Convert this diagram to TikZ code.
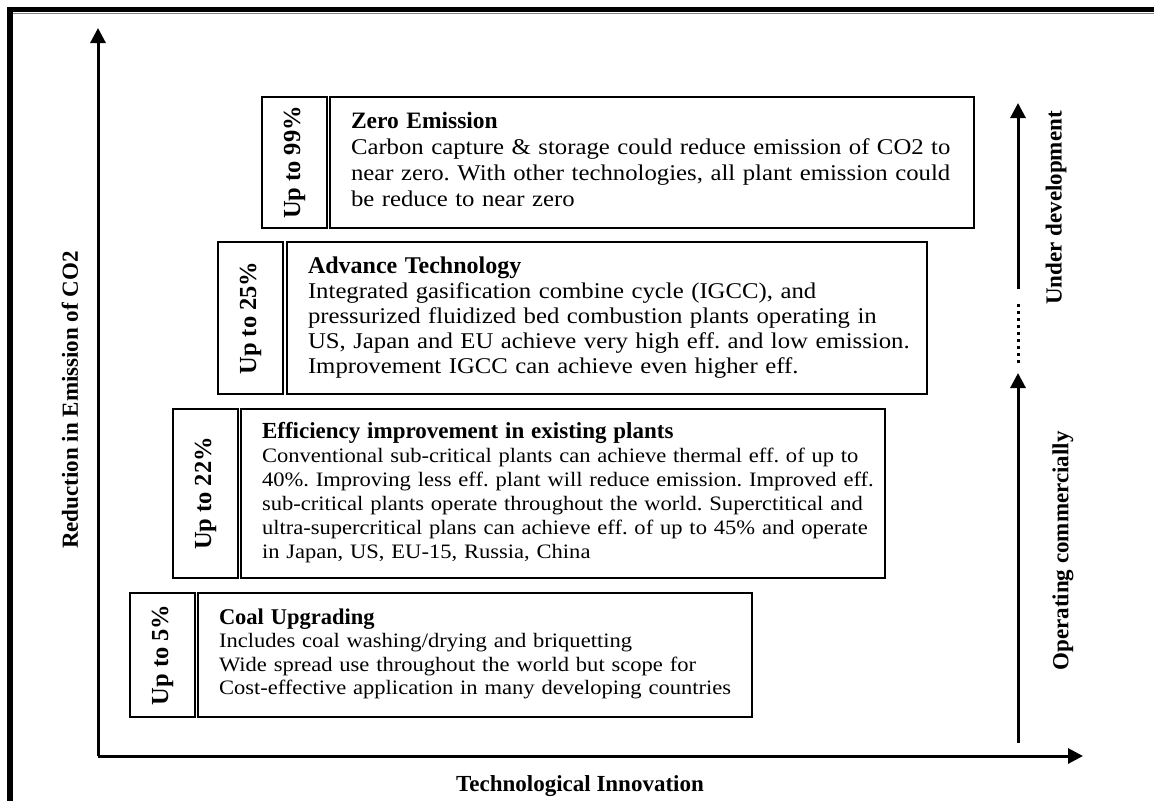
\documentclass[tikz,border=0pt]{standalone}
\usepackage{fontspec}
\setmainfont{Liberation Serif}
\newfontfamily\bodyfont[FakeStretch=1.1]{Liberation Serif}
\usetikzlibrary{arrows.meta}
\tikzset{
  ladderfig/.style={x=1pt, y=-1pt, >={Triangle[width=15pt,length=15pt]}},
  pctbox/.style={draw, line width=1.5pt, rotate=90, inner sep=0pt,
    minimum height=65pt, font=\bfseries\fontsize{24.5}{28}\selectfont},
  techbox/.style={draw, line width=1.5pt, align=left, inner xsep=21pt, inner ysep=0pt},
  axisline/.style={line width=3pt, ->},
  axislabel/.style={font=\bfseries\fontsize{23}{27}\selectfont},
  stagelabel/.style={axislabel, rotate=90},
}
% heading line and line block inside a technology box
\newcommand{\boxhead}[2]{{\rmfamily\bfseries\fontsize{#1}{#1}\selectfont #2}}
\newcommand{\boxlines}[1]{\frenchspacing\begin{tabular}{@{}l@{}}#1\end{tabular}}

\begin{document}
\begin{tikzpicture}[ladderfig]
  \useasboundingbox (0,0) rectangle (1154,801);
  % page frame
  \fill (7,7) rectangle (1154,12);
  \fill (7,7) rectangle (13,801);
  \draw[gray, line width=1pt] (13,13.5) -- (1154,13.5);
  % axes
  \coordinate (origin) at (98,756);
  \coordinate (ytip) at (98,28);
  \coordinate (xtip) at (1083,756);
  \draw[axisline] (origin) -- (ytip);
  \draw[axisline] (origin) -- (xtip);
  \node[axislabel, rotate=90] (ylabel) at (70,400) {Reduction in Emission of CO2};
  \node[axislabel] (xlabel) at (580,786) {Technological Innovation};
  % stages
  \node[pctbox, minimum width=131pt] (zeropct) at (294.5,162.5) {Up to 99\%};
  \node[techbox, minimum width=644pt, minimum height=131pt, text width=602pt,
    font=\bodyfont\fontsize{22.5}{26}\selectfont] (zero) at (652,162.5)
    {\boxlines{\boxhead{23.5}{Zero Emission}\\
     Carbon capture \& storage could reduce emission of CO2 to\\
     near zero. With other technologies, all plant emission could\\
     be reduce to near zero}};
  \node[pctbox, minimum width=152pt] (advpct) at (250.5,318) {Up to 25\%};
  \node[techbox, minimum width=640pt, minimum height=152pt, text width=598pt,
    font=\bodyfont\fontsize{22.5}{25}\selectfont] (adv) at (607,318)
    {\boxlines{\boxhead{24}{Advance Technology}\\
     Integrated gasification combine cycle (IGCC), and\\
     pressurized fluidized bed combustion plants operating in\\
     US, Japan and EU achieve very high eff. and low emission.\\
     Improvement IGCC can achieve even higher eff.}};
  \node[pctbox, minimum width=169pt] (effpct) at (205.5,493.5) {Up to 22\%};
  \node[techbox, minimum width=644pt, minimum height=169pt, text width=602pt,
    font=\bodyfont\fontsize{20.5}{24}\selectfont] (eff) at (563,493.5)
    {\boxlines{\boxhead{23}{Efficiency improvement in existing plants}\\
     Conventional sub-critical plants can achieve thermal eff. of up to\\
     40\%. Improving less eff. plant will reduce emission. Improved eff.\\
     sub-critical plants operate throughout the world. Superctitical and\\
     ultra-supercritical plans can achieve eff. of up to 45\% and operate\\
     in Japan, US, EU-15, Russia, China}};
  \node[pctbox, minimum width=124pt] (coalpct) at (162.5,655) {Up to 5\%};
  \node[techbox, minimum width=554pt, minimum height=124pt, text width=512pt,
    font=\bodyfont\fontsize{20.5}{23.5}\selectfont] (coal) at (475,655)
    {\boxlines{\boxhead{22.5}{Coal Upgrading}\\
     Includes coal washing/drying and briquetting\\
     Wide spread use throughout the world but scope for\\
     Cost-effective application in many developing countries}};
  % maturity arrows
  \coordinate (combot) at (1018,743);
  \coordinate (comtop) at (1018,373);
  \coordinate (gapbot) at (1018,363);
  \coordinate (gaptop) at (1018,303);
  \coordinate (devbot) at (1018,289);
  \coordinate (devtop) at (1018,103);
  \draw[axisline] (combot) -- (comtop);
  \draw[line width=3pt, dash pattern=on 3pt off 4pt] (gapbot) -- (gaptop);
  \draw[axisline] (devbot) -- (devtop);
  \node[stagelabel] (devlabel) at (1056,208) {Under development};
  \node[stagelabel] (comlabel) at (1063,551) {Operating commercially};
\end{tikzpicture}
\end{document}
